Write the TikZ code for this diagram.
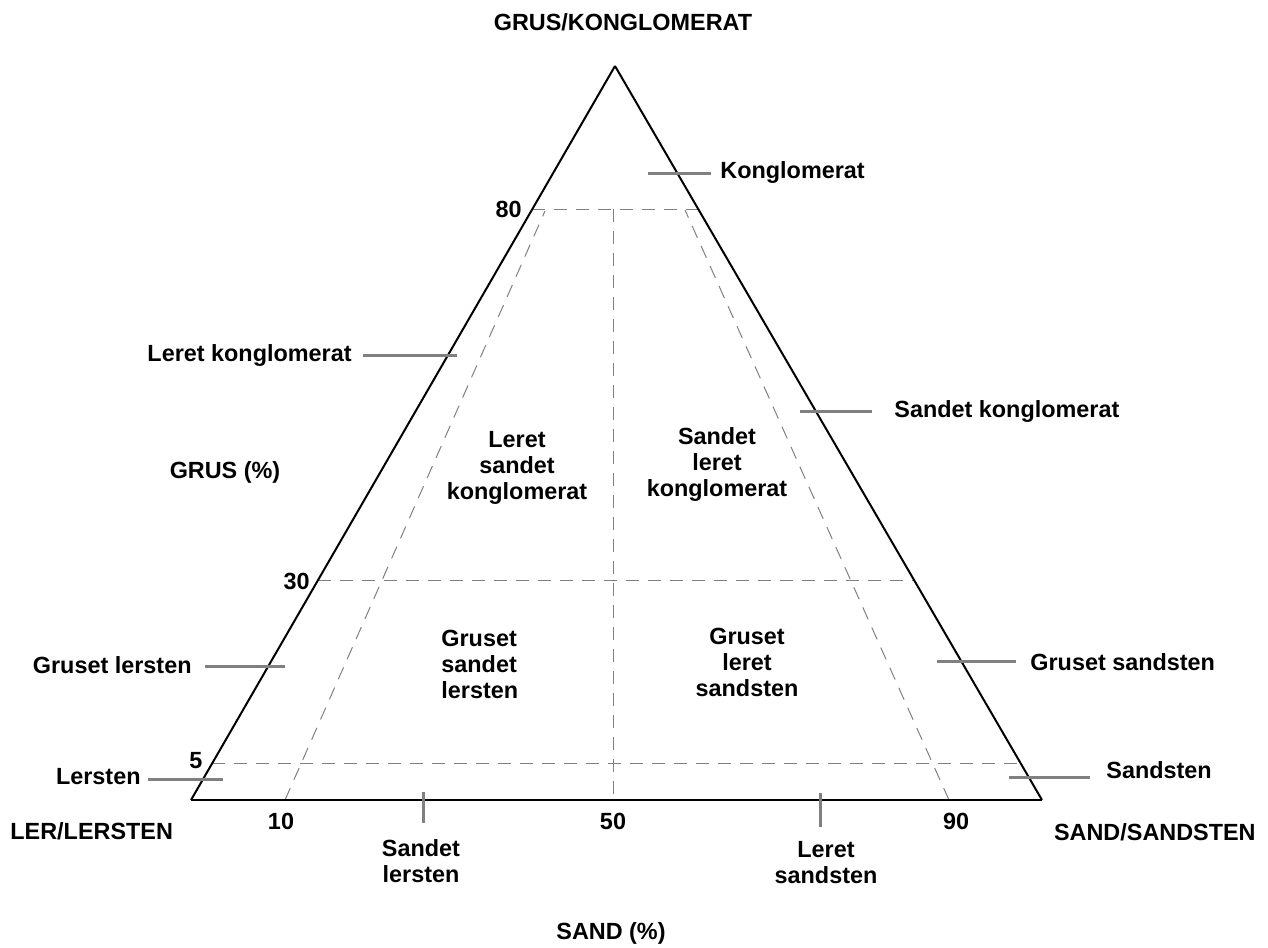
\documentclass[tikz,border=0pt]{standalone}
\usepackage{fontspec}
\setmainfont{Liberation Sans}
\usetikzlibrary{calc}
\begin{document}
\begin{tikzpicture}[x=0.5pt,y=-0.5pt,
    lbl/.style={font=\fontsize{11.7}{13}\selectfont\bfseries,inner sep=0pt,align=center},
    tickmark/.style={draw=gray,line width=1.5pt},
    gridline/.style={draw=gray,line width=0.5pt,dash pattern=on 6.5pt off 4.5pt}]
    \useasboundingbox (0,0) rectangle (1268,947);
    % corners of the triangle
    \coordinate (L) at (191,800);
    \coordinate (R) at (1042,800);
    \coordinate (T) at (615,66);
    \coordinate (a80) at ($(T)!0.195!(L)$);
    \coordinate (b80) at ($(T)!0.195!(R)$);
    \coordinate (a30) at ($(T)!0.7016!(L)$);
    \coordinate (b30) at ($(T)!0.7016!(R)$);
    \coordinate (a5) at ($(T)!0.9496!(L)$);
    \coordinate (b5) at ($(T)!0.9496!(R)$);
    % dashed class borders
    \draw [gridline] (a80) -- (b80);
    \draw [gridline] (a30) -- (b30);
    \draw [gridline] (a5) -- (b5);
    \draw [gridline] (613,209) -- (613,800);
    \draw [gridline] (285,800) -- (545,211);
    \draw [gridline] (949,800) -- (685,210);
    \draw [line width=1pt] (T) -- (L);
    \draw [line width=1pt] (T) -- (R);
    \draw [line width=1.2pt] (L) -- (R);
    % corner and axis labels
    \node [lbl] (grus) at (623,22) {GRUS/KONGLOMERAT};
    \node [lbl,anchor=west] (ler) at (10,831) {LER/LERSTEN};
    \node [lbl,anchor=east] (sand) at (1256,832) {SAND/SANDSTEN};
    \node [lbl] (grusax) at (225,472) {GRUS (\%)};
    \node [lbl] (sandax) at (611,933) {SAND (\%)};
    \node [lbl,anchor=east] (p80) at (522,209) {80};
    \node [lbl,anchor=east] (p30) at (310,581) {30};
    \node [lbl] (p5) at (196,761) {5};
    \node [lbl] (p10) at (281,821) {10};
    \node [lbl] (p50) at (613,821) {50};
    \node [lbl] (p90) at (956,821) {90};
    % fields inside
    \node [lbl] (lsk) at (517,468) {Leret\\sandet\\konglomerat};
    \node [lbl] (slk) at (717,464) {Sandet\\leret\\konglomerat};
    \node [lbl,align=left,anchor=west] (gsl) at (441,664) {Gruset\\sandet\\lersten};
    \node [lbl] (gls) at (747,662) {Gruset\\leret\\sandsten};
    % names along the edges
    \node [lbl,anchor=west] (kong) at (720,173) {Konglomerat};
    \draw [tickmark] (648,173) -- (711,173);
    \node [lbl,anchor=east] (lkong) at (352,355) {Leret konglomerat};
    \draw [tickmark] (363,355) -- (457,355);
    \node [lbl,anchor=west] (skong) at (894,411) {Sandet konglomerat};
    \draw [tickmark] (800,411) -- (872,411);
    \node [lbl,anchor=east] (glers) at (192,665) {Gruset lersten};
    \draw [tickmark] (205,666) -- (285,666);
    \node [lbl,anchor=west] (gsand) at (1030,662) {Gruset sandsten};
    \draw [tickmark] (937,661) -- (1016,661);
    \node [lbl,anchor=east] (lers) at (141,777) {Lersten};
    \draw [tickmark] (148,779) -- (223,779);
    \node [lbl,anchor=west] (sst) at (1106,770) {Sandsten};
    \draw [tickmark] (1009,777) -- (1090,777);
    \node [lbl] (slers) at (421,861) {Sandet\\lersten};
    \draw [tickmark] (423,792) -- (423,823);
    \node [lbl] (lsst) at (826,863) {Leret\\sandsten};
    \draw [tickmark] (820,793) -- (820,827);
\end{tikzpicture}
\end{document}
